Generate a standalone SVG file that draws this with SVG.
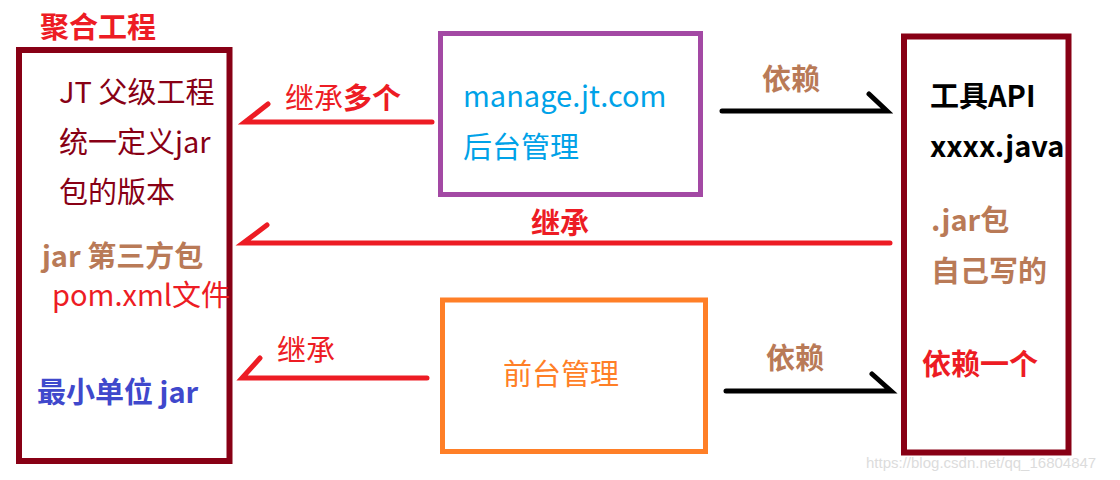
<svg xmlns="http://www.w3.org/2000/svg" width="1120" height="480" viewBox="0 0 1120 480">
<style>
text{font-family:"Noto Sans CJK SC","Noto Sans",sans-serif;font-size:29px}
.b{font-weight:bold}
.box{fill:none}
.red{stroke:#ed1c24;stroke-width:5;stroke-linecap:round;fill:none}
.blk{stroke:#000;stroke-width:5;stroke-linecap:round;fill:none}
</style>
<rect width="1120" height="480" fill="#fff"/>
<text x="40" y="38" class="b" fill="#ed1c24">聚合工程</text>
<g id="parent">
<rect class="box" x="19" y="50" width="210.5" height="411" stroke="#880015" stroke-width="6"/>
<text x="59" y="103" fill="#880015">JT 父级工程</text>
<text x="59" y="153" fill="#880015">统一定义jar</text>
<text x="59" y="203" fill="#880015">包的版本</text>
<text x="42" y="267" class="b" fill="#b97a57">jar 第三方包</text>
<text x="52" y="306" fill="#ed1c24">pom.xml文件</text>
<text x="37" y="403" class="b" fill="#3f48cc">最小单位 jar</text>
</g>
<g id="manage">
<rect class="box" x="440.5" y="33.5" width="260" height="161" stroke="#a349a4" stroke-width="5"/>
<text x="463" y="107" fill="#00a2e8">manage.jt.com</text>
<text x="463" y="158" fill="#00a2e8">后台管理</text>
</g>
<g id="front">
<rect class="box" x="442.5" y="300" width="263" height="151.5" stroke="#ff7f27" stroke-width="5"/>
<text x="503" y="385" fill="#ff7f27">前台管理</text>
</g>
<g id="tools">
<rect class="box" x="904" y="36.5" width="164.5" height="416" stroke="#880015" stroke-width="6"/>
<text x="930" y="107" class="b" fill="#000">工具API</text>
<text x="930" y="157" class="b" fill="#000">xxxx.java</text>
<text x="931" y="231" class="b" fill="#b97a57">.jar包</text>
<text x="931" y="282" class="b" fill="#b97a57">自己写的</text>
<text x="922" y="375" class="b" fill="#ed1c24">依赖一个</text>
</g>
<g id="connectors">
<path class="red" d="M432 122H245L268 104"/>
<text x="285" y="109" fill="#ed1c24">继承<tspan class="b">多个</tspan></text>
<path class="red" d="M890 243H243L267 225"/>
<text x="531" y="234" class="b" fill="#ed1c24">继承</text>
<path class="red" d="M427 378H242L260 358"/>
<text x="277" y="361" fill="#ed1c24">继承</text>
<path class="blk" d="M722 111H887L869 94"/>
<text x="762" y="90" class="b" fill="#b97a57">依赖</text>
<path class="blk" d="M726 391H891L872 374"/>
<text x="766" y="369" class="b" fill="#b97a57">依赖</text>
</g>
<text x="866" y="468" style="font-family:'Liberation Sans',sans-serif;font-size:15px" fill="#dcdcdc">https://blog.csdn.net/qq_16804847</text>
</svg>
